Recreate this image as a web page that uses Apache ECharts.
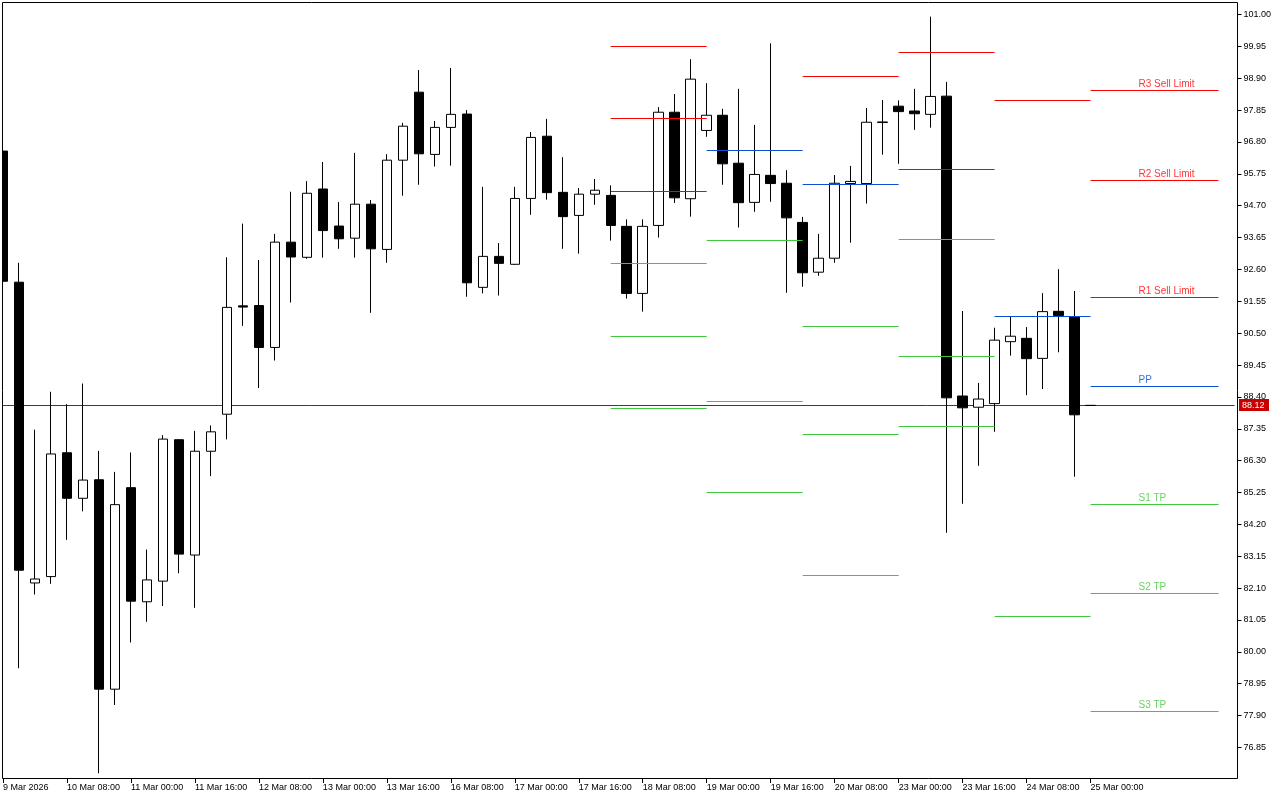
<!DOCTYPE html>
<html><head><meta charset="utf-8">
<script src="https://cdn.jsdelivr.net/npm/echarts@6/dist/echarts.min.js"></script>
<style>html,body{margin:0;padding:0;background:#fff}#c{width:1280px;height:800px}</style>
</head><body><div id="c"></div>
<script>
// ---- data ----
const days = ['9 Mar','10 Mar','11 Mar','12 Mar','13 Mar','16 Mar','17 Mar','18 Mar','19 Mar','20 Mar','23 Mar','24 Mar','25 Mar','26 Mar'];
const hours = ['00:00','04:00','08:00','12:00','16:00','20:00'];
const categories = [];
days.forEach((d, i) => {
  let hs = hours;
  if (i === 0) hs = hours.slice(4);
  if (d === '26 Mar') hs = hours.slice(0, 4);
  hs.forEach(h => categories.push(d + ' ' + h));
});
const xTickLabels = ['9 Mar 2026','10 Mar 08:00','11 Mar 00:00','11 Mar 16:00','12 Mar 08:00','13 Mar 00:00','13 Mar 16:00','16 Mar 08:00','17 Mar 00:00','17 Mar 16:00','18 Mar 08:00','19 Mar 00:00','19 Mar 16:00','20 Mar 08:00','23 Mar 00:00','23 Mar 16:00','24 Mar 08:00','25 Mar 00:00'];
const yTicks = [101.00,99.95,98.90,97.85,96.80,95.75,94.70,93.65,92.60,91.55,90.50,89.45,88.40,87.35,86.30,85.25,84.20,83.15,82.10,81.05,80.00,78.95,77.90,76.85];

const opens  = [96.50,92.18,82.27,82.48,86.56,85.06,85.67,78.77,85.41,81.65,82.33,86.99,83.19,86.61,87.83,91.40,91.41,90.03,93.50,93.00,95.25,94.03,93.63,94.75,93.26,96.20,98.44,96.39,97.28,97.72,92.01,93.03,92.77,94.94,96.99,95.14,94.38,95.08,95.04,94.02,91.81,94.05,97.78,94.93,97.18,97.68,96.10,94.81,95.70,95.44,94.15,92.51,92.97,95.43,95.43,97.44,97.98,97.82,97.71,98.31,88.43,88.06,88.18,90.22,90.33,89.67,91.22,91.04,88.12];
const closes = [92.21,82.69,82.40,86.52,85.06,85.66,78.77,84.85,81.67,82.37,87.01,83.22,86.61,87.25,91.35,91.36,90.03,93.50,93.01,95.11,93.88,93.61,94.75,93.28,96.20,97.32,96.41,97.28,97.71,92.16,93.03,92.80,94.94,96.95,95.13,94.34,95.08,95.21,94.05,91.81,94.02,97.78,94.96,98.87,97.68,96.08,94.80,95.73,95.43,94.30,92.49,92.97,95.44,95.50,97.45,97.46,97.80,97.73,98.30,88.37,88.04,88.33,90.27,90.40,89.66,91.21,91.08,87.81,88.12];
const lows   = [92.10,79.46,81.89,82.24,83.69,84.63,76.00,78.25,80.31,80.99,81.51,82.59,81.45,85.79,87.00,90.74,88.69,89.60,91.51,92.95,92.99,93.28,92.99,91.17,92.82,95.03,95.39,95.99,96.02,91.70,91.81,91.74,92.75,94.40,94.90,93.28,93.12,94.73,93.55,91.64,91.21,93.65,94.79,94.34,96.97,95.39,93.98,94.50,94.83,91.83,92.03,92.39,92.82,93.48,94.77,96.38,96.08,97.20,97.27,83.92,84.88,86.13,87.25,89.76,88.46,88.66,89.87,85.77,88.12];
const highs  = [96.60,92.82,87.32,88.57,88.16,88.84,86.62,85.93,86.57,83.37,87.14,87.00,87.28,87.46,93.00,94.11,92.91,93.77,95.16,95.51,96.14,94.82,96.44,94.89,96.40,97.43,99.17,97.49,99.24,97.85,95.32,93.47,95.32,97.13,97.56,96.30,95.28,95.58,95.37,94.25,94.25,97.95,98.38,99.53,98.74,97.89,98.55,97.36,100.05,95.87,94.33,93.77,95.71,96.01,97.92,98.18,98.17,98.55,100.93,98.78,91.23,88.86,90.68,91.06,90.70,91.82,92.61,91.89,88.12];
const lastPrice = 88.12;

// daily pivot levels (18, 19, 20, 23, 24, 25 Mar); null = outside the visible range
const pivotStarts = ['18 Mar 00:00','19 Mar 00:00','20 Mar 00:00','23 Mar 00:00','24 Mar 00:00','25 Mar 00:00'];
const pivotEnds   = ['19 Mar 00:00','20 Mar 00:00','23 Mar 00:00','24 Mar 00:00','25 Mar 00:00','26 Mar 08:00'];
const r3 = [null, null, null, null, null, 98.51];
const r2 = [99.95, null, null, null, null, 95.54];
const r1 = [97.58, null, 98.96, 99.75, 98.18, 91.69];
const pp = [95.17, 96.53, 95.41, 95.90, 91.07, 88.75];
const s1 = [92.80, 93.56, 90.73, 93.59, 81.17, 84.86];
const s2 = [90.40, 88.26, 87.17, 89.74, null, 81.93];
const s3 = [88.02, 85.26, 82.52, 87.43, null, 78.04];
const levelNames = ['R3 Sell Limit','R2 Sell Limit','R1 Sell Limit','PP','S1 TP','S2 TP','S3 TP'];
const labelAnchor = '25 Mar 12:00';

// ---- styles ----
const RED = '#ff0000', BLUE = '#0a4fd4', GREEN = '#3ec83a';
const FONT = "'Liberation Sans', Arial, sans-serif";
const levels = [r3, r2, r1, pp, s1, s2, s3];
const levelColors = [RED, RED, RED, BLUE, GREEN, GREEN, GREEN];

const candleData = opens.map((o, i) => [o, closes[i], lows[i], highs[i]]);

const pivotSegments = [];
levels.forEach((arr, li) => {
  arr.forEach((v, di) => {
    if (v == null) return;
    pivotSegments.push([
      { coord: [pivotStarts[di], v], lineStyle: { color: levelColors[li], width: 1, type: 'solid' } },
      { coord: [pivotEnds[di], v] }
    ]);
  });
});

const labelPoints = levels.map((arr, li) => ({
  value: [labelAnchor, arr[arr.length - 1]],
  label: { formatter: levelNames[li], color: levelColors[li] }
}));

const isTick = (idx) => idx % 4 === 0 && idx / 4 < xTickLabels.length;

const chart = echarts.init(document.getElementById('c'), null, { renderer: 'canvas' });
chart.setOption({
  animation: false,
  backgroundColor: '#ffffff',
  grid: { left: 2.5, right: 45.5, top: 2, bottom: 22, containLabel: false },
  xAxis: {
    type: 'category',
    data: categories,
    boundaryGap: false,
    axisLine: { show: false },
    axisTick: { show: true, interval: (i) => isTick(i), length: 5, lineStyle: { color: '#000', width: 1 } },
    axisLabel: {
      interval: (i) => isTick(i),
      formatter: (v, i) => isTick(i) ? xTickLabels[i / 4] : '',
      align: 'left', margin: 5, color: '#000', fontSize: 9, fontFamily: FONT
    },
    splitLine: { show: false }
  },
  yAxis: {
    type: 'value',
    position: 'right',
    offset: 3,
    min: 75.8435,
    max: 101.4119,
    scale: true,
    axisLine: { show: false },
    axisTick: { show: true, customValues: yTicks, length: 4, lineStyle: { color: '#000', width: 1 } },
    axisLabel: { customValues: yTicks, formatter: (v) => v.toFixed(2), margin: 6, color: '#000', fontSize: 9, fontFamily: FONT },
    splitLine: { show: false }
  },
  series: [
    {
      name: 'price line', type: 'line', data: [], z: 1,
      markLine: {
        silent: true, z: 1, symbol: ['none', 'none'], animation: false,
        label: { show: false },
        lineStyle: { color: '#c80000', width: 1, type: 'solid' },
        data: [{ yAxis: lastPrice }]
      }
    },
    {
      name: 'H4', type: 'candlestick', z: 3, barWidth: 10, clip: true,
      data: candleData,
      itemStyle: { color: '#ffffff', color0: '#000000', borderColor: '#000000', borderColor0: '#000000', borderWidth: 1 }
    },
    {
      name: 'pivots', type: 'line', data: [], z: 4,
      markLine: {
        silent: true, symbol: ['none', 'none'], animation: false,
        label: { show: false },
        data: pivotSegments
      }
    },
    {
      name: 'levels', type: 'scatter', z: 5, symbol: 'circle', symbolSize: 0.1,
      itemStyle: { color: 'rgba(0,0,0,0)' },
      label: { show: true, position: [0, -11], fontSize: 10, fontFamily: FONT },
      data: labelPoints
    }
  ]
});

const yPix = chart.convertToPixel({ yAxisIndex: 0 }, lastPrice);
chart.setOption({
  graphic: [
    { type: 'rect', silent: true, z: 99, shape: { x: 0, y: 0, width: 2, height: 780 }, style: { fill: '#ffffff' } },
    { type: 'rect', silent: true, z: 100, shape: { x: 2.5, y: 2.5, width: 1235, height: 776 }, style: { fill: 'none', stroke: '#000', lineWidth: 1 } },
    { type: 'rect', silent: true, z: 101, shape: { x: 1239, y: Math.round(yPix) - 6, width: 30, height: 12 }, style: { fill: '#c80000' } },
    { type: 'text', silent: true, z: 102, x: 1242, y: Math.round(yPix) + 0.5,
      style: { text: lastPrice.toFixed(2), fill: '#ffffff', font: "9px 'Liberation Sans', Arial, sans-serif", verticalAlign: 'middle', align: 'left' } }
  ]
});
</script>
</body></html>
